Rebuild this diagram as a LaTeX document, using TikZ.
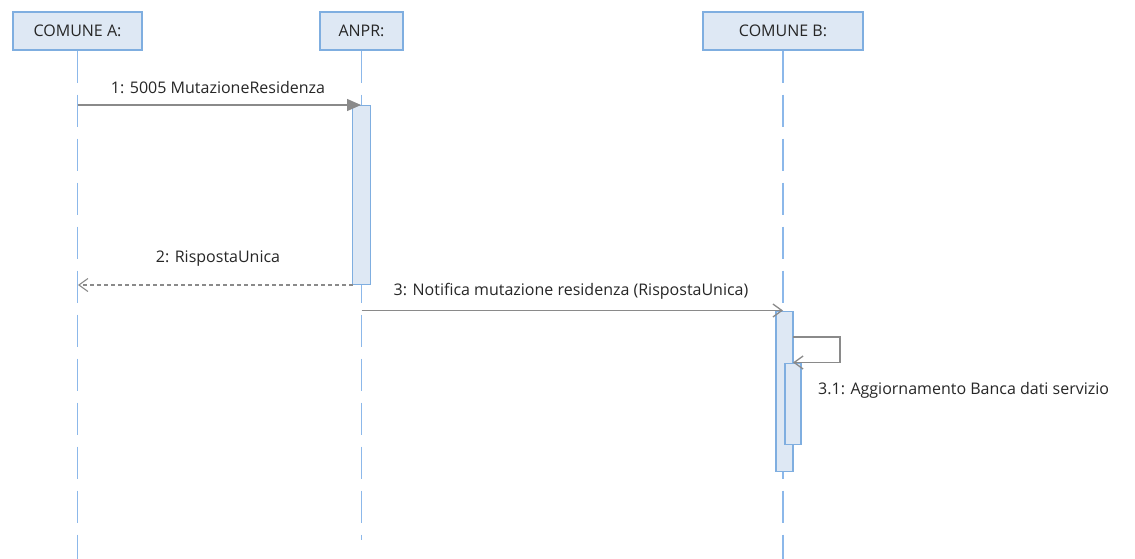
\documentclass[tikz,border=0pt]{standalone}
\usepackage{fontspec}
\setmainfont{Open Sans}
\usetikzlibrary{arrows.meta}
\definecolor{boxfill}{HTML}{DEE8F4}
\definecolor{boxline}{HTML}{7FAEE0}
\definecolor{lifeline}{HTML}{8CB8EA}
\definecolor{msg}{HTML}{8A8A8A}
\tikzset{
  objbox/.style={draw=boxline, fill=boxfill, line width=1.2pt, minimum height=38pt, inner sep=0pt, font=\fontsize{16}{18}\selectfont, text=black!85},
  life/.style={draw=lifeline, line width=1.2pt, dash pattern=on 32pt off 12pt},
  actbox/.style={draw=boxline, fill=boxfill, line width=1.2pt},
  call/.style={draw=msg, line width=1.3pt, -{Triangle[length=14pt,width=12pt]}},
  reply/.style={draw=msg, line width=1.1pt, dash pattern=on 4pt off 3pt, -{Straight Barb[length=9pt,width=13pt]}},
  async/.style={draw=msg, line width=1.3pt, -{Straight Barb[length=9pt,width=13pt]}},
  lbl/.style={font=\fontsize{16}{18}\selectfont, text=black!85, inner sep=0pt}
}
\begin{document}
\begin{tikzpicture}[x=1pt,y=-1pt]
\useasboundingbox (0,0) rectangle (1135,559);
% objects
\node[objbox, minimum width=129pt] (A) at (77.5,31) {COMUNE A:};
\node[objbox, minimum width=83pt] (N) at (361.5,31) {ANPR:};
\node[objbox, minimum width=160pt] (B) at (783,31) {COMUNE B:};
% lifelines
\coordinate (Aend) at (77.5,559);
\coordinate (Nend) at (361.5,540);
\coordinate (Bend) at (783,559);
\draw[life] (A.south) -- (Aend);
\draw[life] (N.south) -- (Nend);
\draw[life] (B.south) -- (Bend);
% activations
\node[actbox, minimum width=18pt, minimum height=179pt, inner sep=0pt, anchor=north] (actN) at (361.5,105) {};
\node[actbox, minimum width=17pt, minimum height=160pt, inner sep=0pt, anchor=north] (actB) at (784.5,311) {};
\node[actbox, minimum width=16pt, minimum height=81pt, inner sep=0pt, anchor=north] (actB2) at (793,362.5) {};
% coordinates for messages
\coordinate (m1s) at (77.5,105);
\coordinate (m1e) at (361,105);
\coordinate (m2s) at (352.5,285);
\coordinate (m2e) at (78,285);
\coordinate (m3s) at (361.5,310.5);
\coordinate (m3e) at (783,310.5);
\coordinate (l1) at (793,337);
\coordinate (l2) at (840,337);
\coordinate (l3) at (840,362.5);
\coordinate (l4) at (793,362.5);
% messages
\draw[call] (m1s) -- (m1e);
\node[lbl] (t1) at (218,88) {1: 5005 MutazioneResidenza};
\draw[reply] (m2s) -- (m2e);
\node[lbl] (t2) at (218,259) {2: RispostaUnica};
\draw[async] (m3s) -- (m3e);
\node[lbl] (t3) at (571,291) {3: Notifica mutazione residenza (RispostaUnica)};
\draw[async] (l1) -- (l2) -- (l3) -- (l4);
\node[lbl, anchor=west] (t4) at (818,390) {3.1: Aggiornamento Banca dati servizio};
\end{tikzpicture}
\end{document}
